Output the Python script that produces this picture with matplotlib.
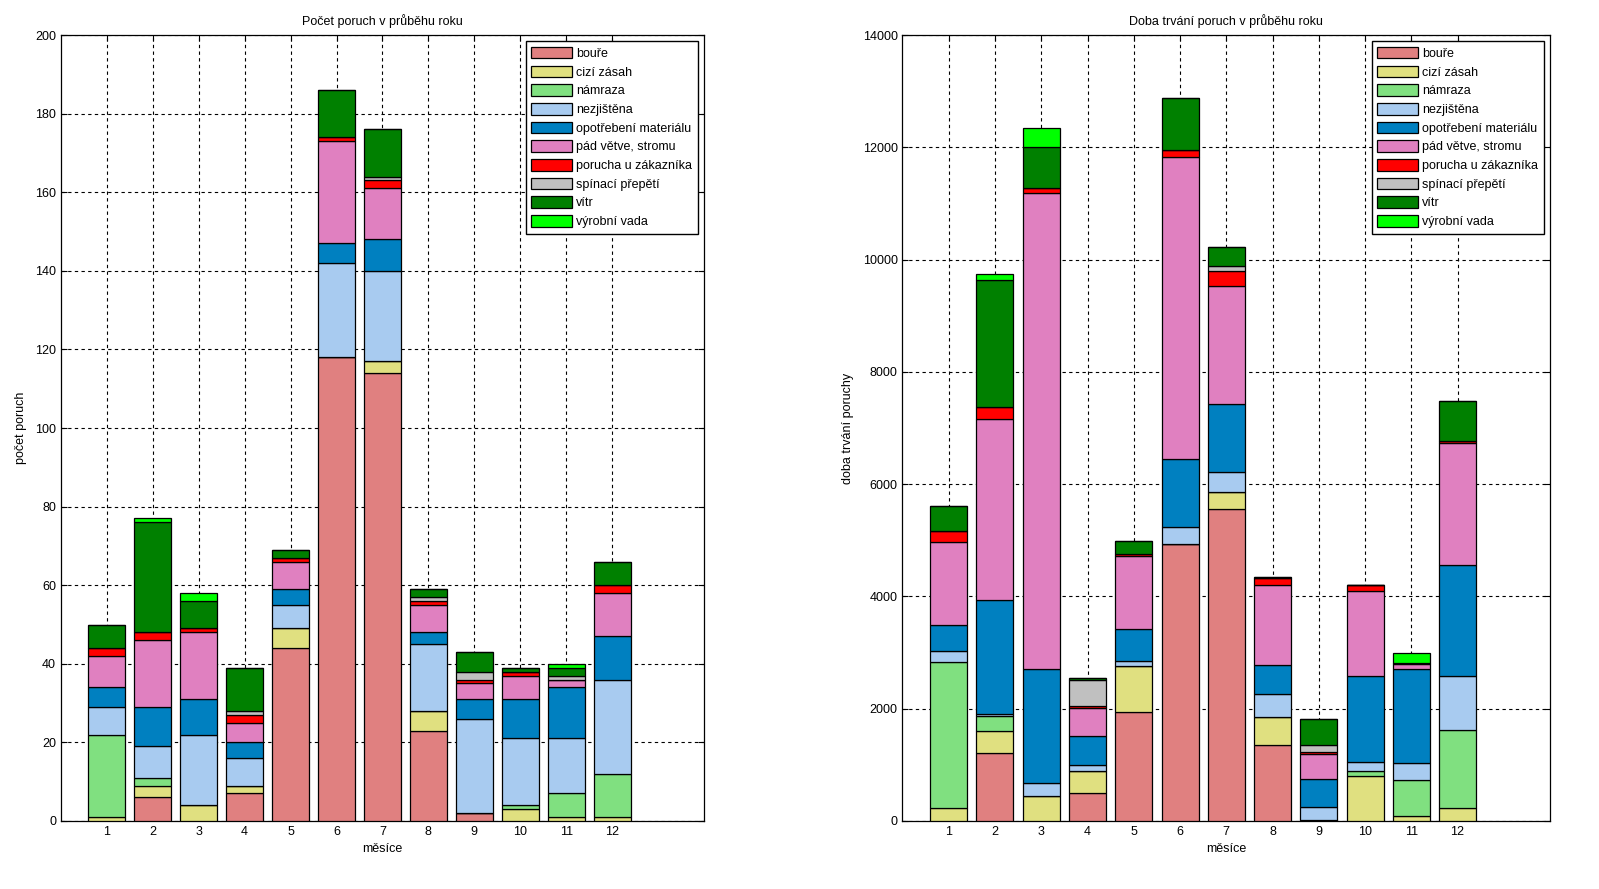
import numpy as np
import matplotlib
matplotlib.use("Agg")
import matplotlib.pyplot as plt

plt.rcParams['font.family'] = ['Liberation Sans', 'DejaVu Sans']
plt.rcParams['font.size'] = 9

# data
mesice = list(range(1, 13))
kategorie = ['bouře', 'cizí zásah', 'námraza', 'nezjištěna', 'opotřebení materiálu',
             'pád větve, stromu', 'porucha u zákazníka', 'spínací přepětí', 'vítr', 'výrobní vada']
barvy = ['#E08080', '#E0E080', '#80E080', '#A8CBF0', '#0080C0',
         '#E080C0', '#FF0000', '#C0C0C0', '#008000', '#00FF00']

# pocet poruch
pocet_boure = [0, 6, 0, 7, 44, 118, 114, 23, 2, 0, 0, 0]
pocet_cizi = [1, 3, 4, 2, 5, 0, 3, 5, 0, 3, 1, 1]
pocet_namraza = [21, 2, 0, 0, 0, 0, 0, 0, 0, 1, 6, 11]
pocet_nezjistena = [7, 8, 18, 7, 6, 24, 23, 17, 24, 17, 14, 24]
pocet_opotrebeni = [5, 10, 9, 4, 4, 5, 8, 3, 5, 10, 13, 11]
pocet_pad = [8, 17, 17, 5, 7, 26, 13, 7, 4, 6, 2, 11]
pocet_porucha = [2, 2, 1, 2, 1, 1, 2, 1, 1, 1, 0, 2]
pocet_spinaci = [0, 0, 0, 1, 0, 0, 1, 1, 2, 0, 1, 0]
pocet_vitr = [6, 28, 7, 11, 2, 12, 12, 2, 5, 1, 2, 6]
pocet_vyrobni = [0, 1, 2, 0, 0, 0, 0, 0, 0, 0, 1, 0]

# doba trvani poruch
doba_boure = [0, 1214, 0, 500, 1946, 4940, 5560, 1355, 20, 0, 0, 0]
doba_cizi = [232, 393, 446, 393, 822, 0, 302, 496, 0, 805, 94, 235]
doba_namraza = [2601, 268, 0, 0, 0, 0, 0, 0, 0, 80, 637, 1388]
doba_nezjistena = [201, 36, 233, 107, 89, 298, 362, 416, 235, 168, 302, 959]
doba_opotrebeni = [464, 2017, 2035, 518, 554, 1214, 1207, 516, 496, 1529, 1677, 1972]
doba_pad = [1464, 3233, 8465, 494, 1315, 5381, 2106, 1422, 436, 1516, 87, 2180]
doba_porucha = [196, 214, 89, 41, 30, 124, 262, 128, 40, 107, 20, 40]
doba_spinaci = [0, 0, 0, 465, 0, 0, 87, 0, 128, 0, 0, 0]
doba_vitr = [461, 2268, 732, 35, 226, 927, 342, 13, 463, 0, 0, 700]
doba_vyrobni = [0, 107, 339, 0, 0, 0, 0, 0, 0, 0, 175, 0]

pocty = [pocet_boure, pocet_cizi, pocet_namraza, pocet_nezjistena, pocet_opotrebeni,
         pocet_pad, pocet_porucha, pocet_spinaci, pocet_vitr, pocet_vyrobni]
doby = [doba_boure, doba_cizi, doba_namraza, doba_nezjistena, doba_opotrebeni,
        doba_pad, doba_porucha, doba_spinaci, doba_vitr, doba_vyrobni]


def graf(ax, serie, titulek, ylabel, ymax, krok):
    spodek = np.zeros(len(mesice))
    for hodnoty, nazev, barva in zip(serie, kategorie, barvy):
        ax.bar(mesice, hodnoty, width=0.8, bottom=spodek, color=barva,
               edgecolor='black', linewidth=0.9, label=nazev, zorder=3)
        spodek += np.array(hodnoty)
    ax.set_xlim(0, 14)
    ax.set_ylim(0, ymax)
    ax.set_xticks(mesice)
    ax.set_yticks(np.arange(0, ymax + 1, krok))
    ax.grid(True, color='black', linestyle=(0, (3, 3)), linewidth=0.8, zorder=0)
    ax.tick_params(direction='in', top=True, right=True, length=4, width=0.8)
    for s in ax.spines.values():
        s.set_linewidth(0.9)
    ax.set_title(titulek, fontsize=9, pad=7)
    ax.set_xlabel('měsíce', labelpad=4)
    ax.set_ylabel(ylabel, labelpad=6)
    ax.legend(loc='upper right', fancybox=False, framealpha=1, edgecolor='black',
              handlelength=3.3, handleheight=1.05, labelspacing=0.45,
              handletextpad=0.3, borderpad=0.45, fontsize=9)


fig = plt.figure(figsize=(15.99, 8.89), dpi=100)
ax1 = fig.add_axes([0.0381, 0.0765, 0.4022, 0.8841])
ax2 = fig.add_axes([0.5644, 0.0765, 0.4050, 0.8841])

graf(ax1, pocty, 'Počet poruch v průběhu roku', 'počet poruch', 200, 20)
graf(ax2, doby, 'Doba trvání poruch v průběhu roku', 'doba trvání poruchy', 14000, 2000)

fig.savefig('out.png', dpi=100)
